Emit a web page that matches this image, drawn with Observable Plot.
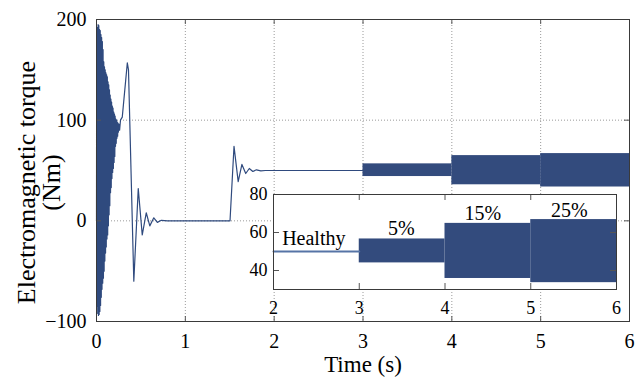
<!DOCTYPE html>
<html>
<head>
<meta charset="utf-8">
<script src="https://cdn.jsdelivr.net/npm/d3@7"></script>
<script src="https://cdn.jsdelivr.net/npm/@observablehq/plot@0.6"></script>
<style>
  html, body { margin: 0; padding: 0; background: white; }
  #chart { position: relative; width: 644px; height: 378px; }
  #chart svg { position: absolute; left: 0; top: 0; }
</style>
</head>
<body>
<div id="chart"></div>
<script>
// ---- data ----
const time = [0, 0.002, 0.006, 0.010, 0.014, 0.018, 0.022, 0.026, 0.030, 0.034, 0.038, 0.042, 0.046, 0.050, 0.054, 0.058, 0.062, 0.066, 0.070, 0.074, 0.078, 0.082, 0.086, 0.090, 0.094, 0.098, 0.102, 0.106, 0.110, 0.114, 0.118, 0.122, 0.126, 0.130, 0.134, 0.138, 0.142, 0.146, 0.150, 0.154, 0.158, 0.162, 0.166, 0.170, 0.174, 0.178, 0.182, 0.186, 0.190, 0.194, 0.198, 0.202, 0.206, 0.210, 0.214, 0.218, 0.222, 0.226, 0.230, 0.234, 0.238, 0.242, 0.246, 0.252, 0.26, 0.27, 0.29, 0.347, 0.36, 0.42, 0.47, 0.515, 0.56, 0.6, 0.645, 0.685, 0.73, 0.8, 1.503, 1.548, 1.595, 1.637, 1.68, 1.72, 1.76, 1.8, 1.85, 1.9, 3.0];
const torque = [0, 170, -85, 192, -92, 195, -94, 194, -93, 190, -90, 189, -84, 185, -76, 182, -68, 178, -62, 170, -57, 158, -50, 153, -40, 150, -32, 147, -26, 145, -18, 143, -14, 138, -5, 135, 6, 130, 15, 125, 28, 121, 33, 118, 42, 114, 48, 112, 52, 108, 58, 106, 64, 104, 74, 101, 77, 100, 82, 98, 84, 97, 88, 96, 90, 100, 103, 157, 150, -60, 32, -14, 8, -5, 3, -1.5, 0.5, 0, 0, 74, 39, 56, 47, 52, 49, 50.7, 49.6, 50, 50];

const faultStart = [3, 4, 5];
const faultEnd = [4, 5, 6];
const faultLow = [44, 35.8, 33.6];
const faultHigh = [56.6, 64.8, 66.8];

const healthyTime = [2, 3];
const healthyTorque = [50, 50];

const labelText = ["Healthy", "5%", "15%", "25%"];
const labelTime = [2.47, 3.49, 4.44, 5.45];
const labelTorque = [57, 61.8, 69.7, 71.6];

const xTicks = [0, 1, 2, 3, 4, 5, 6];
const yTicks = [-100, 0, 100, 200];
const gridXTicks = [1, 2, 3, 4, 5];
const gridYTicks = [0, 100];
const insetXTicks = [2, 3, 4, 5, 6];
const insetYTicks = [40, 60, 80];

const xLabel = "Time (s)";
const yLabel = "Electromagnetic torque\n(Nm)";

// ---- styles ----
const lineColor = "#2f4a7e";
const bandColor = "#334b7d";
const font = "'Liberation Serif', 'Times New Roman', serif";

const W = 644, H = 378;
const main = {left: 96, right: 15, top: 19, bottom: 57};
const mainFrameH = H - main.top - main.bottom;
const mainFrameW = W - main.left - main.right;
const ins = {left: 273, right: 28, top: 194, bottom: 89};
const insFrameH = H - ins.top - ins.bottom;
const insFrameW = W - ins.left - ins.right;
const tk = 5;

const idx = d3.range(time.length);
const fIdx = d3.range(faultStart.length);
const lIdx = d3.range(labelText.length);

const mainPlot = Plot.plot({
  width: W, height: H,
  marginLeft: main.left, marginRight: main.right, marginTop: main.top, marginBottom: main.bottom,
  x: {domain: [0, 6]},
  y: {domain: [-100, 200]},
  style: {fontFamily: font, fontSize: "20px", background: "white", color: "black", overflow: "visible"},
  marks: [
    Plot.gridX(gridXTicks, {stroke: "#9a9a9a", strokeOpacity: 1, strokeDasharray: "1,2"}),
    Plot.gridY(gridYTicks, {stroke: "#9a9a9a", strokeOpacity: 1, strokeDasharray: "1,2"}),
    Plot.rect(fIdx, {x1: i => faultStart[i], x2: i => faultEnd[i], y1: i => faultLow[i], y2: i => faultHigh[i], fill: bandColor}),
    Plot.line(idx, {x: i => time[i], y: i => torque[i], stroke: lineColor, strokeWidth: 1.2}),
    Plot.ruleX(xTicks.slice(1, -1), {insetTop: mainFrameH - tk, stroke: "#555"}),
    Plot.ruleX(xTicks.slice(1, -1), {insetBottom: mainFrameH - tk, stroke: "#555"}),
    Plot.ruleY(yTicks.slice(1, -1), {insetRight: mainFrameW - tk, stroke: "#555"}),
    Plot.ruleY(yTicks.slice(1, -1), {insetLeft: mainFrameW - tk, stroke: "#555"}),
    Plot.frame({stroke: "#3a3a3a"}),
    Plot.axisX(xTicks, {tickSize: 0, tickPadding: 12, fontSize: 20, label: null}),
    Plot.axisY(yTicks, {tickSize: 0, tickPadding: 10, fontSize: 20, label: null}),
    Plot.text([xLabel], {frameAnchor: "bottom", dy: 43, fontSize: 23, lineAnchor: "middle", textAnchor: "middle"}),
    Plot.text([yLabel], {frameAnchor: "left", dx: -57, dy: 12, rotate: -90, fontSize: 26, lineHeight: 0.97, lineAnchor: "middle", textAnchor: "middle"})
  ]
});

const insetPlot = Plot.plot({
  width: W, height: H,
  marginLeft: ins.left, marginRight: ins.right, marginTop: ins.top, marginBottom: ins.bottom,
  x: {domain: [2, 6]},
  y: {domain: [30, 80]},
  style: {fontFamily: font, fontSize: "18px", background: "transparent", color: "black", overflow: "visible"},
  marks: [
    Plot.frame({fill: "white"}),
    Plot.rect(fIdx, {x1: i => faultStart[i], x2: i => faultEnd[i], y1: i => faultLow[i], y2: i => faultHigh[i], fill: bandColor}),
    Plot.line(healthyTime, {x: d => d, y: (d, i) => healthyTorque[i], stroke: "#5674a6", strokeWidth: 2}),
    Plot.ruleX(insetXTicks.slice(1, -1), {insetTop: insFrameH - 6, stroke: "#555"}),
    Plot.ruleX(insetXTicks.slice(1, -1), {insetBottom: insFrameH - 6, stroke: "#555"}),
    Plot.ruleY(insetYTicks.slice(0, -1), {insetRight: insFrameW - 6, stroke: "#555"}),
    Plot.ruleY(insetYTicks.slice(0, -1), {insetLeft: insFrameW - 6, stroke: "#555"}),
    Plot.frame({stroke: "#3a3a3a"}),
    Plot.axisX(insetXTicks, {tickSize: 0, tickPadding: 12, fontSize: 18, label: null}),
    Plot.axisY(insetYTicks, {tickSize: 0, tickPadding: 6, fontSize: 18, label: null}),
    Plot.text(lIdx, {x: i => labelTime[i], y: i => labelTorque[i], text: i => labelText[i], fontSize: 20, lineAnchor: "middle"})
  ]
});
insetPlot.style.background = "transparent";

const chart = document.getElementById("chart");
chart.appendChild(mainPlot);
chart.appendChild(insetPlot);
</script>
</body>
</html>
